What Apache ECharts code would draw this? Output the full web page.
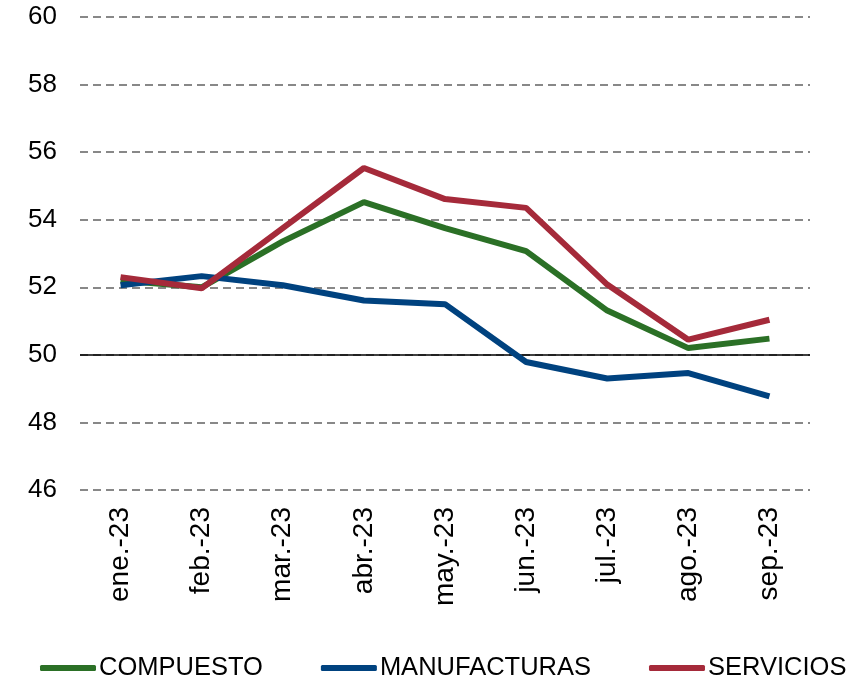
<!DOCTYPE html>
<html lang="es">
<head>
  <meta charset="UTF-8">
  <title>PMI</title>
  <script src="https://cdn.jsdelivr.net/npm/echarts@6/dist/echarts.min.js"></script>
</head>
<body style="margin:0">
<div id="chart" style="width:851px;height:685px;background:#fff"></div>
<script>
  const months = ['ene.-23', 'feb.-23', 'mar.-23', 'abr.-23', 'may.-23', 'jun.-23', 'jul.-23', 'ago.-23', 'sep.-23'];
  const compuesto = [52.2, 52.0, 53.36, 54.52, 53.75, 53.07, 51.31, 50.2, 50.48];
  const manufacturas = [52.06, 52.33, 52.06, 51.61, 51.5, 49.79, 49.3, 49.46, 48.77];
  const servicios = [52.3, 51.97, 53.75, 55.53, 54.61, 54.35, 52.08, 50.45, 51.04];

  const font = "'Liberation Sans', Arial, sans-serif";
  const chart = echarts.init(document.getElementById('chart'));

  function line(name, data, color) {
    return {
      name: name,
      type: 'line',
      data: data,
      symbol: 'none',
      lineStyle: { width: 6, color: color },
      itemStyle: { color: color },
      z: 3
    };
  }

  const series = [
    line('COMPUESTO', compuesto, '#2B7026'),
    line('MANUFACTURAS', manufacturas, '#00427F'),
    line('SERVICIOS', servicios, '#A52A3A')
  ];
  // linea de referencia en 50
  series[0].markLine = {
    silent: true,
    symbol: 'none',
    label: { show: false },
    lineStyle: { color: '#000', type: 'solid', width: 1.5 },
    data: [{ yAxis: 50 }],
    z: 2
  };

  chart.setOption({
    animation: false,
    grid: { left: 80, right: 41, top: 17, bottom: 195 },
    legend: {
      bottom: 4,
      left: 40,
      width: 820,
      padding: 0,
      icon: 'roundRect',
      itemWidth: 56,
      itemHeight: 6,
      itemGap: 58,
      textStyle: { fontFamily: font, fontSize: 25.5, color: '#000', padding: [0, 0, 0, -2] },
      data: ['COMPUESTO', 'MANUFACTURAS', 'SERVICIOS']
    },
    xAxis: {
      type: 'category',
      data: months,
      boundaryGap: true,
      axisLine: { show: false },
      axisTick: { show: false },
      axisLabel: { rotate: 90, margin: 17, fontFamily: font, fontSize: 28, color: '#000', interval: 0 }
    },
    yAxis: {
      type: 'value',
      min: 46,
      max: 60,
      interval: 2,
      axisLine: { show: false },
      axisTick: { show: false },
      axisLabel: { margin: 23, fontFamily: font, fontSize: 26, color: '#000' },
      splitLine: { lineStyle: { color: '#888', type: [8, 5], width: 2 } }
    },
    series: series
  });
</script>
</body>
</html>
